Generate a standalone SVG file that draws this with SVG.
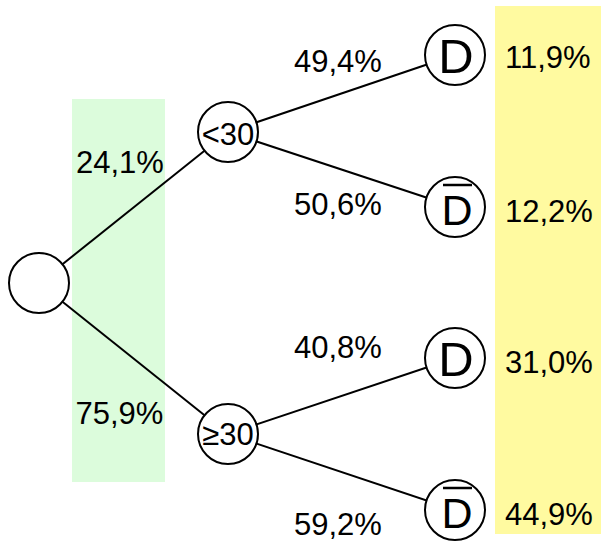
<svg xmlns="http://www.w3.org/2000/svg" width="601" height="544" viewBox="0 0 601 544">
  <style>
    .lbl { font-family: "Liberation Sans", Arial, sans-serif; font-size: 31px; fill: #000; }
    .node { fill: #fff; stroke: #000; stroke-width: 2; }
    .edge { stroke: #000; stroke-width: 2; fill: none; }
    .mid { text-anchor: middle; }
    .big { font-family: "Liberation Sans", Arial, sans-serif; font-size: 49px; text-anchor: middle; }
    .bigbar { font-family: "Liberation Sans", Arial, sans-serif; font-size: 43px; text-anchor: middle; }
    .bar { stroke: #000; stroke-width: 2.5; }
  </style>

  <!-- background bands -->
  <rect x="72" y="99" width="93" height="383" fill="#dcfcdc"/>
  <rect x="495" y="6" width="106" height="528" fill="#fffaa0"/>

  <!-- connectors -->
  <g id="edges">
    <line class="edge" x1="39" y1="283" x2="228" y2="132"/>
    <line class="edge" x1="39" y1="283" x2="228" y2="434"/>
    <line class="edge" x1="228" y1="132" x2="455" y2="55"/>
    <line class="edge" x1="228" y1="132" x2="455" y2="207"/>
    <line class="edge" x1="228" y1="434" x2="455" y2="358"/>
    <line class="edge" x1="228" y1="434" x2="455" y2="510"/>
  </g>

  <!-- branch probabilities -->
  <g id="edge-labels">
    <text class="lbl" x="76" y="173">24,1%</text>
    <text class="lbl" x="75.5" y="424">75,9%</text>
    <text class="lbl" x="294" y="72">49,4%</text>
    <text class="lbl" x="294" y="215">50,6%</text>
    <text class="lbl" x="294" y="358">40,8%</text>
    <text class="lbl" x="294" y="535">59,2%</text>
  </g>

  <g id="root">
    <circle class="node" cx="39" cy="283" r="30"/>
  </g>

  <g id="age-under-30">
    <circle class="node" cx="228" cy="132" r="30"/>
    <text class="lbl mid" x="228" y="145">&lt;30</text>
  </g>

  <g id="age-30-plus">
    <circle class="node" cx="228" cy="434" r="30"/>
    <text class="lbl mid" x="228" y="445">≥30</text>
  </g>

  <g id="under30-D">
    <circle class="node" cx="455" cy="55" r="30"/>
    <text class="big" x="456" y="72.5">D</text>
  </g>

  <g id="under30-notD">
    <circle class="node" cx="455" cy="207" r="30"/>
    <line class="bar" x1="443" y1="185" x2="472" y2="185"/>
    <text class="bigbar" x="457" y="225">D</text>
  </g>

  <g id="over30-D">
    <circle class="node" cx="455" cy="358" r="30"/>
    <text class="big" x="456" y="375.5">D</text>
  </g>

  <g id="over30-notD">
    <circle class="node" cx="455" cy="510" r="30"/>
    <line class="bar" x1="443" y1="488" x2="472" y2="488"/>
    <text class="bigbar" x="457" y="528">D</text>
  </g>

  <!-- joint probabilities -->
  <g id="joint">
    <text class="lbl" x="505" y="68">11,9%</text>
    <text class="lbl" x="505" y="222">12,2%</text>
    <text class="lbl" x="505" y="373">31,0%</text>
    <text class="lbl" x="505" y="525">44,9%</text>
  </g>
</svg>
